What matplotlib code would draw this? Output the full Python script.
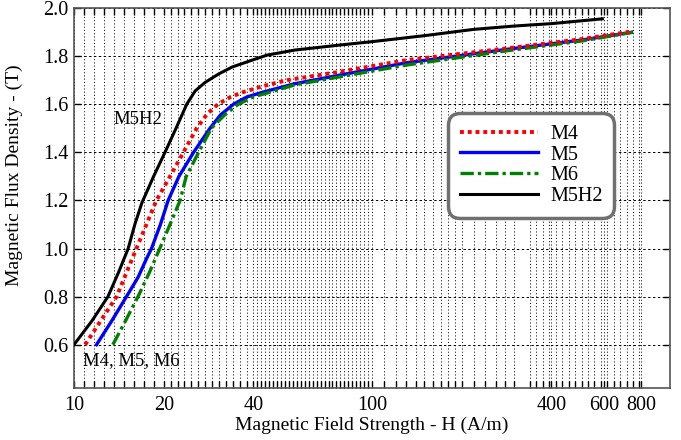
import numpy as np
import matplotlib
matplotlib.use("Agg")
import matplotlib.pyplot as plt
from matplotlib.ticker import FixedLocator, NullFormatter, FixedFormatter

plt.rcParams['font.family'] = ['Liberation Serif', 'DejaVu Serif']

# ---- data ----
h_m4 = [10.9, 12.3, 13.9, 15.0, 16.2, 17.5, 18.9, 21.0, 23.3, 25.8, 28.0, 30.4, 33.5, 36.9, 43.0, 51.9, 78, 130, 283, 500, 730]
b_m4 = [0.60, 0.70, 0.80, 0.90, 1.00, 1.10, 1.20, 1.30, 1.40, 1.50, 1.56, 1.60, 1.63, 1.65, 1.675, 1.70, 1.735, 1.783, 1.832, 1.870, 1.901]

h_m5 = [11.9, 13.4, 15.0, 16.4, 17.5, 18.2, 19.5, 20.7, 22.5, 25.2, 28.6, 31.0, 34.3, 38.0, 43.0, 55.0, 78, 130, 283, 500, 743]
b_m5 = [0.60, 0.70, 0.80, 0.88, 0.957, 1.00, 1.10, 1.20, 1.30, 1.40, 1.50, 1.555, 1.60, 1.63, 1.65, 1.685, 1.721, 1.772, 1.828, 1.866, 1.899]

h_m6 = [13.5, 14.9, 16.4, 17.9, 19.4, 21.0, 22.7, 23.8, 26.2, 28.9, 32.0, 35.6, 40.0, 45.4, 55.0, 78, 130, 283, 500, 750]
b_m6 = [0.60, 0.70, 0.80, 0.90, 1.00, 1.10, 1.20, 1.30, 1.40, 1.50, 1.555, 1.60, 1.63, 1.65, 1.68, 1.714, 1.7625, 1.822, 1.862, 1.899]

h_m5h2 = [10, 11.5, 13.0, 14.1, 15.2, 16.0, 16.9, 18.5, 20.2, 22.0, 23.9, 25.5, 27.5, 30.5, 34.0, 40, 44.4, 55, 78, 100, 150, 219, 300, 400, 593]
b_m5h2 = [0.60, 0.70, 0.80, 0.90, 1.00, 1.10, 1.19, 1.30, 1.40, 1.50, 1.60, 1.655, 1.69, 1.725, 1.755, 1.785, 1.804, 1.825, 1.846, 1.860, 1.885, 1.911, 1.925, 1.935, 1.955]

x_ticks = [10, 20, 40, 100, 400, 600, 800]
x_ticklabels = ['10', '20', '40', '100', '400', '600', '800']
y_ticks = [0.6, 0.8, 1.0, 1.2, 1.4, 1.6, 1.8, 2.0]

# ---- vertical grid positions (styling) ----
minor_x = list(np.geomspace(10, 20, 10)[1:-1]) + list(np.geomspace(20, 40, 14)[1:-1]) \
    + list(np.geomspace(40, 100, 31)[1:-1]) + list(range(110, 200, 10)) + [200, 220, 240, 260, 280, 300] \
    + list(np.geomspace(339, 790, 18))

fig = plt.figure(figsize=(6.81, 4.40), dpi=100)
ax = fig.add_axes([74/681, 1-388/440, 596/681, 380/440])

ax.plot(h_m4, b_m4, color='#ff0000', lw=2.8, linestyle=(0, (1, 1)), label='M4', zorder=4)
ax.plot(h_m5, b_m5, color='#0000ff', lw=2.4, linestyle='-', label='M5', zorder=3)
ax.plot(h_m6, b_m6, color='#008000', lw=2.4, linestyle=(0, (4, 1.2, 1, 1.2)), label='M6', zorder=3)
ax.plot(h_m5h2, b_m5h2, color='black', lw=2.2, linestyle='-', label='M5H2', zorder=3)

ax.set_xscale('log')
ax.set_xlim(10, 1000)
ax.set_ylim(0.42, 2.0)

ax.xaxis.set_major_locator(FixedLocator(x_ticks))
ax.xaxis.set_major_formatter(FixedFormatter(x_ticklabels))
ax.xaxis.set_minor_locator(FixedLocator(minor_x))
ax.xaxis.set_minor_formatter(NullFormatter())
ax.set_yticks(y_ticks)
ax.set_yticklabels(['%.1f' % v for v in y_ticks])
ax.yaxis.set_minor_locator(FixedLocator([]))

ax.tick_params(axis='x', which='both', direction='in', top=True, length=5, width=1, labelsize=14.5, pad=6)
ax.tick_params(axis='y', which='both', direction='in', right=True, length=5, width=1, labelsize=14.5, pad=4)

ax.grid(True, axis='x', which='both', color='black', linestyle=(0, (1.2, 2.4)), linewidth=0.65)
ax.grid(True, axis='y', which='major', color='black', linestyle=(0, (2.5, 2.5)), linewidth=0.7)
ax.set_axisbelow(True)

for s in ax.spines.values():
    s.set_color('#555555')
    s.set_linewidth(1.2)

ax.set_xlabel('Magnetic Field Strength - H (A/m)', fontsize=14, labelpad=1)
ax.set_ylabel('Magnetic Flux Density - (T)', fontsize=14, labelpad=6)
ax.yaxis.set_label_coords(-0.085, 0.56)

ax.text(16.4, 1.535, 'M5H2', fontsize=13.5, ha='center', va='center')
ax.text(10.7, 0.535, 'M4, M5, M6', fontsize=13.5, ha='left', va='center')

leg = ax.legend(loc='upper left', bbox_to_anchor=(0.634, 0.713), borderaxespad=0,
                fontsize=14.5, handlelength=3.9, handletextpad=0.6, labelspacing=0.08,
                fancybox=True, framealpha=1, edgecolor='#707070', borderpad=0.38)
leg.get_frame().set_linewidth(2.5)
leg.get_frame().set_boxstyle('round,pad=0.2,rounding_size=0.6')

fig.savefig('out.png', dpi=100)
